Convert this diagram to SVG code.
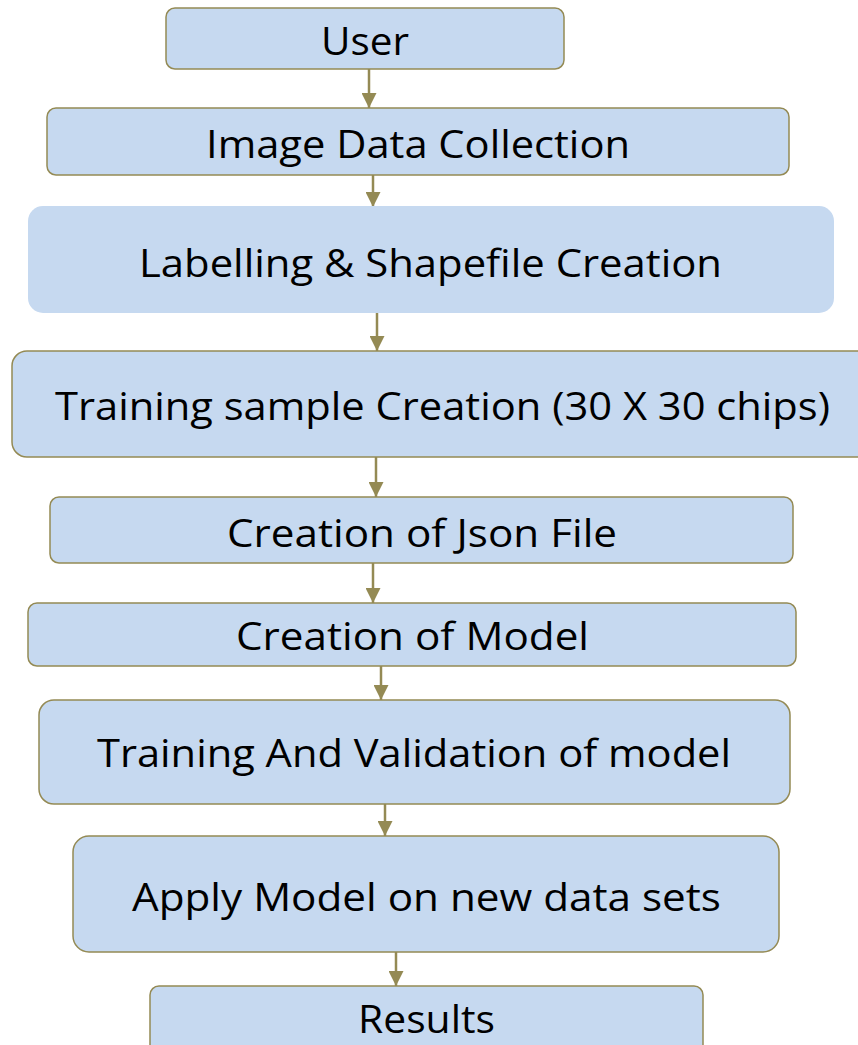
<svg xmlns="http://www.w3.org/2000/svg" width="858" height="1045" viewBox="0 0 858 1045">
  <defs>
    <style>
      .box { fill: #C6D9F0; stroke: #948A54; stroke-width: 1.5; }
      .plain { fill: #C6D9F0; stroke: none; }
      .label { font-family: "Open Sans", "Liberation Sans", sans-serif; font-size: 39px; fill: #000; text-anchor: start; }
      .link { stroke: #948A54; stroke-width: 2.5; fill: none; marker-end: url(#head); }
    </style>
    <marker id="head" viewBox="0 0 10 10" refX="10" refY="5" markerUnits="userSpaceOnUse" markerWidth="15" markerHeight="15" orient="auto">
      <path d="M0,0 L10,5 L0,10 Z" fill="#948A54"/>
    </marker>
  </defs>

  <rect width="858" height="1045" fill="#FFFFFF"/>

  <!-- connectors -->
  <g id="connectors">
    <line class="link" x1="369" y1="69" x2="369" y2="108"/>
    <line class="link" x1="373" y1="175" x2="373" y2="207"/>
    <line class="link" x1="377" y1="313" x2="377" y2="351"/>
    <line class="link" x1="376" y1="457" x2="376" y2="497"/>
    <line class="link" x1="373" y1="563" x2="373" y2="603"/>
    <line class="link" x1="381" y1="662" x2="381" y2="700"/>
    <line class="link" x1="385" y1="804" x2="385" y2="836"/>
    <line class="link" x1="396" y1="952" x2="396" y2="986"/>
  </g>

  <g id="user">
    <rect class="box" x="166" y="8" width="398" height="61" rx="9"/>
    <text class="label" x="321" y="55" textLength="88" lengthAdjust="spacingAndGlyphs">User</text>
  </g>

  <g id="image-data-collection">
    <rect class="box" x="47" y="108" width="742" height="67" rx="9"/>
    <text class="label" x="206" y="158" textLength="424" lengthAdjust="spacingAndGlyphs">Image Data Collection</text>
  </g>

  <g id="labelling">
    <rect class="plain" x="28" y="206" width="806" height="107" rx="15"/>
    <text class="label" x="139" y="277" textLength="583" lengthAdjust="spacingAndGlyphs">Labelling &amp; Shapefile Creation</text>
  </g>

  <g id="training-sample">
    <rect class="box" x="12" y="351" width="866" height="106" rx="15"/>
    <text class="label" x="55" y="420" textLength="775" lengthAdjust="spacingAndGlyphs">Training sample Creation (30 X 30 chips)</text>
  </g>

  <g id="json-file">
    <rect class="box" x="50" y="497" width="743" height="66" rx="9"/>
    <text class="label" x="227" y="547" textLength="390" lengthAdjust="spacingAndGlyphs">Creation of Json File</text>
  </g>

  <g id="model">
    <rect class="box" x="28" y="603" width="768" height="63" rx="9"/>
    <text class="label" x="236" y="650" textLength="353" lengthAdjust="spacingAndGlyphs">Creation of Model</text>
  </g>

  <g id="training-validation">
    <rect class="box" x="39" y="700" width="751" height="104" rx="15"/>
    <text class="label" x="97" y="767" textLength="634" lengthAdjust="spacingAndGlyphs">Training And Validation of model</text>
  </g>

  <g id="apply-model">
    <rect class="box" x="73" y="836" width="706" height="116" rx="16"/>
    <text class="label" x="132" y="911" textLength="589" lengthAdjust="spacingAndGlyphs">Apply Model on new data sets</text>
  </g>

  <g id="results">
    <rect class="box" x="150" y="986" width="553" height="70" rx="9"/>
    <text class="label" x="358" y="1033" textLength="137" lengthAdjust="spacingAndGlyphs">Results</text>
  </g>
</svg>
